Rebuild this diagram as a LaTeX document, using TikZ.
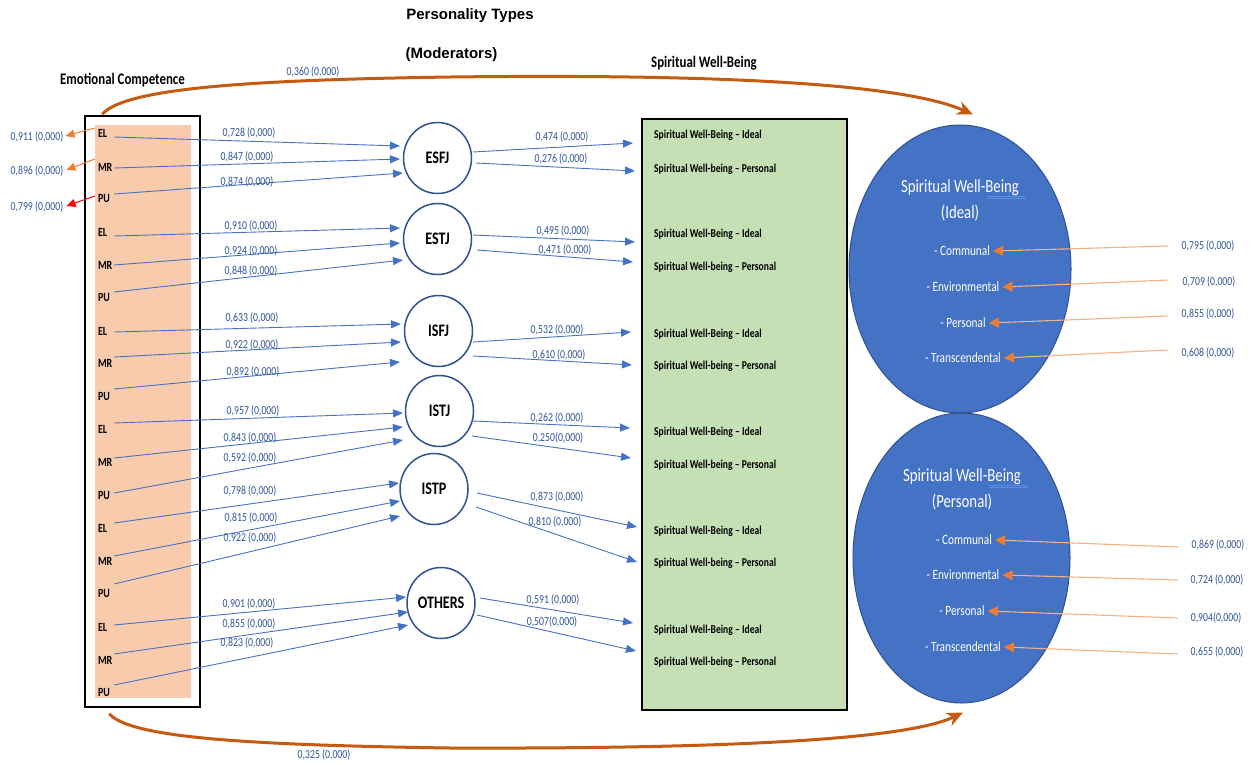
\documentclass[tikz,border=0pt]{standalone}
\usepackage{fontspec}
\usetikzlibrary{arrows.meta,shapes.geometric,calc}
\newfontfamily\calfont[FakeStretch=0.8]{Carlito}
\newfontfamily\arialfont{Liberation Sans}
\definecolor{peach}{HTML}{F8CBAD}
\definecolor{swbgreen}{HTML}{C5E0B4}
\definecolor{ellblue}{HTML}{4472C4}
\definecolor{ellborder}{HTML}{2F528F}
\definecolor{arrowblue}{HTML}{4472C4}
\definecolor{labelblue}{HTML}{2F5496}
\definecolor{orangeA}{HTML}{ED7D31}
\definecolor{orangeL}{HTML}{F4B183}
\definecolor{orangeD}{HTML}{C55A11}
\definecolor{spellblue}{HTML}{5B8FE0}
\begin{document}
\begin{tikzpicture}[x=1pt,y=-1pt,
  lbl/.style={font=\calfont\fontsize{12.2}{14}\selectfont, text=labelblue, inner sep=1pt},
  ind/.style={font=\calfont\bfseries\fontsize{12.5}{14}\selectfont, text width=14pt, inner sep=2pt, align=left},
  ptype/.style={ellipse, draw=ellborder, line width=1.5pt, fill=white, minimum width=68pt, minimum height=71pt, inner sep=0pt, font=\calfont\bfseries\fontsize{17.6}{19}\selectfont},
  swbtext/.style={anchor=west, inner sep=0pt, font=\calfont\bfseries\fontsize{12}{14}\selectfont},
  elltitle/.style={text=white, inner sep=1pt, font=\calfont\fontsize{18.5}{20}\selectfont},
  ellitem/.style={text=white, inner sep=3pt, font=\calfont\fontsize{14.1}{16}\selectfont},
  headA/.style={font=\arialfont\bfseries\fontsize{15}{17}\selectfont},
  headC/.style={font=\calfont\bfseries\fontsize{16.1}{18}\selectfont},
  barrow/.style={draw=arrowblue, line width=0.9pt, -{Triangle[length=10pt,width=8pt]}},
  orarrow/.style={draw=orangeA, line width=1pt, -{Triangle[length=9pt,width=8pt]}},
  redarrow/.style={draw=red, line width=1pt, -{Triangle[length=9pt,width=8pt]}},
  lorarrow/.style={draw=orangeL, line width=1.1pt, -{Triangle[length=10pt,width=10pt,color=orangeA]}},
  bigarc/.style={draw=orangeD, line width=3pt, -{Stealth[length=16pt,width=14pt]}},
  spell/.style={draw=spellblue, line width=0.5pt}
]
\useasboundingbox (0,0) rectangle (1253,764);

% headings
\node[headA] (pt) at (470,16) {Personality Types};
\node[headA] (mod) at (451.5,55) {(Moderators)};
\node[headC] (ect) at (122.5,80) {Emotional Competence};
\node[headC] (swt) at (704,63) {Spiritual Well-Being};

% emotional competence block
\node[draw=black, line width=1.5pt, fill=white, minimum width=115pt, minimum height=591pt, inner sep=0pt] (ecbox) at (142.5,411.5) {};
\node[fill=peach, minimum width=96pt, minimum height=573pt, inner sep=0pt] (ecfill) at (143,411.5) {};

% spiritual well-being block
\node[draw=black, line width=1.5pt, fill=swbgreen, minimum width=205pt, minimum height=591pt, inner sep=0pt] (swbbox) at (744.5,414.5) {};

% outcome ellipses
\node[ellipse, fill=ellblue, draw=ellborder, line width=1pt, minimum width=222pt, minimum height=288pt] (idealell) at (960,269) {};
\node[ellipse, fill=ellblue, draw=ellborder, line width=1pt, minimum width=217pt, minimum height=290pt] (persell) at (961.5,558) {};

% indicator labels
\foreach \g/\ya/\yb/\yc in {1/133/167/198, 2/232/265/297, 3/331/363/396, 4/429/462/495, 5/528/561/593, 6/627/660/692}{
  \node[ind] (el\g) at (105,\ya) {EL};
  \node[ind] (mr\g) at (105,\yb) {MR};
  \node[ind] (pu\g) at (105,\yc) {PU};
}

% personality type circles
\node[ptype] (esfj) at (437.5,158) {ESFJ};
\node[ptype] (estj) at (437.5,239) {ESTJ};
\node[ptype] (isfj) at (438.5,331) {ISFJ};
\node[ptype] (istj) at (439.5,411) {ISTJ};
\node[ptype] (istp) at (434,489) {ISTP};
\node[ptype] (others) at (441,603) {OTHERS};

% spiritual well-being rows
\foreach \g/\ya/\yb in {1/135/169, 2/234/267, 3/334/366, 4/432/465, 5/531/563, 6/630/662}{
  \node[swbtext] (gi\g) at (654,\ya) {Spiritual Well-Being – Ideal};
  \node[swbtext] (gp\g) at (654,\yb) {Spiritual Well-being – Personal};
}

% loadings of the indicators
\node[lbl] (o1) at (37,137) {0,911 (0,000)};
\node[lbl] (o2) at (37,171) {0,896 (0,000)};
\node[lbl] (o3) at (37,207) {0,799 (0,000)};
\draw[orarrow] ($(el1.west)+(-1,-5)$) -- ($(o1.east)+(1,-1)$);
\draw[orarrow] ($(mr1.west)+(-1,-8)$) -- ($(o2.east)+(2,-1)$);
\draw[redarrow] ($(pu1.west)+(-1,-2)$) -- ($(o3.east)+(2,-1)$);

% paths from indicators to personality types
\draw[barrow] ($(el1.east)+(0,4)$) -- ($(esfj)+(-37.5,-12)$);
\draw[barrow] ($(mr1.east)+(0,1)$) -- ($(esfj)+(-37.5,1)$);
\draw[barrow] ($(pu1.east)+(0,-4)$) -- ($(esfj)+(-34.5,15)$);
\draw[barrow] ($(el2.east)+(0,4)$) -- ($(estj)+(-37.5,-11)$);
\draw[barrow] ($(mr2.east)+(0,0)$) -- ($(estj)+(-37.5,4)$);
\draw[barrow] ($(pu2.east)+(0,-5)$) -- ($(estj)+(-34.5,21)$);
\draw[barrow] ($(el3.east)+(0,1)$) -- ($(isfj)+(-37.5,-7)$);
\draw[barrow] ($(mr3.east)+(0,-6)$) -- ($(isfj)+(-37.5,11)$);
\draw[barrow] ($(pu3.east)+(0,-7)$) -- ($(isfj)+(-38.5,31)$);
\draw[barrow] ($(el4.east)+(0,-6)$) -- ($(istj)+(-36.5,2)$);
\draw[barrow] ($(mr4.east)+(0,-4)$) -- ($(istj)+(-36.5,16)$);
\draw[barrow] ($(pu4.east)+(0,-2)$) -- ($(istj)+(-36.5,29)$);
\draw[barrow] ($(el5.east)+(0,-5)$) -- ($(istp)+(-35,-6)$);
\draw[barrow] ($(mr5.east)+(0,-5)$) -- ($(istp)+(-34,12)$);
\draw[barrow] ($(pu5.east)+(0,-9)$) -- ($(istp)+(-34,27)$);
\draw[barrow] ($(el6.east)+(0,-2)$) -- ($(others)+(-35,-6)$);
\draw[barrow] ($(mr6.east)+(0,-6)$) -- ($(others)+(-33,9)$);
\draw[barrow] ($(pu6.east)+(0,-7)$) -- ($(others)+(-33,22)$);

\node[lbl] at (249,133) {0,728 (0,000)};
\node[lbl] at (247,157) {0,847 (0,000)};
\node[lbl] at (247,182) {0,874 (0,000)};
\node[lbl] at (251,226) {0,910 (0,000)};
\node[lbl] at (251,251) {0,924 (0,000)};
\node[lbl] at (251,271) {0,848 (0,000)};
\node[lbl] at (252,318) {0,633 (0,000)};
\node[lbl] at (252,345) {0,922 (0,000)};
\node[lbl] at (253,372) {0,892 (0,000)};
\node[lbl] at (253,411) {0,957 (0,000)};
\node[lbl] at (250,438) {0,843 (0,000)};
\node[lbl] at (250,458) {0,592 (0,000)};
\node[lbl] at (250,491) {0,798 (0,000)};
\node[lbl] at (251,518) {0,815 (0,000)};
\node[lbl] at (250,538) {0,922 (0,000)};
\node[lbl] at (249,604) {0,901 (0,000)};
\node[lbl] at (249,624) {0,855 (0,000)};
\node[lbl] at (247,643) {0,823 (0,000)};

% paths from personality types to spiritual well-being
\draw[barrow] ($(esfj)+(35.5,-6)$) -- ($(gi1.west)+(-21,8)$);
\draw[barrow] ($(esfj)+(38.5,5)$) -- ($(gp1.west)+(-19,2)$);
\draw[barrow] ($(estj)+(35.5,-4)$) -- ($(gi2.west)+(-19,8)$);
\draw[barrow] ($(estj)+(39.5,11)$) -- ($(gp2.west)+(-21,-5)$);
\draw[barrow] ($(isfj)+(34.5,11)$) -- ($(gi3.west)+(-23,-2)$);
\draw[barrow] ($(isfj)+(34.5,25)$) -- ($(gp3.west)+(-22,-1)$);
\draw[barrow] ($(istj)+(33.5,10)$) -- ($(gi4.west)+(-24,-4)$);
\draw[barrow] ($(istj)+(32.5,25)$) -- ($(gp4.west)+(-23,-7)$);
\draw[barrow] ($(istp)+(43,4)$) -- ($(gi5.west)+(-17,-4)$);
\draw[barrow] ($(istp)+(42,18)$) -- ($(gp5.west)+(-17,-1)$);
\draw[barrow] ($(others)+(39,-5)$) -- ($(gi6.west)+(-21,-7)$);
\draw[barrow] ($(others)+(36,12)$) -- ($(gp6.west)+(-18,-11)$);

\node[lbl] at (562,137) {0,474 (0,000)};
\node[lbl] at (561,159) {0,276 (0,000)};
\node[lbl] at (563,231) {0,495 (0,000)};
\node[lbl] at (565,250) {0,471 (0,000)};
\node[lbl] at (557,330) {0,532 (0,000)};
\node[lbl] at (559,355) {0,610 (0,000)};
\node[lbl] at (557,418) {0,262 (0,000)};
\node[lbl] at (558,438) {0,250(0,000)};
\node[lbl] at (557,497) {0,873 (0,000)};
\node[lbl] at (555,522) {0,810 (0,000)};
\node[lbl] at (553,600) {0,591 (0,000)};
\node[lbl] at (552,622) {0,507(0,000)};

% ellipse contents: ideal
\node[elltitle] (idt) at (960,188) {Spiritual Well-Being};
\node[elltitle] (idp) at (960,213) {(Ideal)};
\draw[spell] ($(idt.east)+(-33,8.5)$) -- ($(idt.east)+(6,8.5)$);
\draw[spell] ($(idt.east)+(-33,10)$) -- ($(idt.east)+(6,10)$);
\node[ellitem] (ic) at (962,251) {- Communal};
\node[ellitem] (ie) at (963,287) {- Environmental};
\node[ellitem] (ip) at (963,323) {- Personal};
\node[ellitem] (it) at (963,358) {- Transcendental};

% ellipse contents: personal
\node[elltitle] (pdt) at (962,477) {Spiritual Well-Being};
\node[elltitle] (pdp) at (962,502) {(Personal)};
\draw[spell] ($(pdt.east)+(-33,8.5)$) -- ($(pdt.east)+(6,8.5)$);
\draw[spell] ($(pdt.east)+(-33,10)$) -- ($(pdt.east)+(6,10)$);
\node[ellitem] (pc) at (964,540) {- Communal};
\node[ellitem] (pe) at (963,575) {- Environmental};
\node[ellitem] (pp) at (962,611) {- Personal};
\node[ellitem] (pt2) at (963,647) {- Transcendental};

% dimension loadings
\node[lbl] (lic) at (1208,246) {0,795 (0,000)};
\node[lbl] (lie) at (1209,282) {0,709 (0,000)};
\node[lbl] (lip) at (1208,314) {0,855 (0,000)};
\node[lbl] (lit) at (1208,353) {0,608 (0,000)};
\node[lbl] (lpc) at (1218,545) {0,869 (0,000)};
\node[lbl] (lpe) at (1217,580) {0,724 (0,000)};
\node[lbl] (lpp) at (1216,618) {0,904(0,000)};
\node[lbl] (lpt) at (1217,652) {0,655 (0,000)};
\draw[lorarrow] ($(lic.west)+(-13,0)$) -- (ic.east);
\draw[lorarrow] ($(lie.west)+(-13,-2)$) -- (ie.east);
\draw[lorarrow] ($(lip.west)+(-13,2)$) -- (ip.east);
\draw[lorarrow] ($(lit.west)+(-13,-3)$) -- (it.east);
\draw[lorarrow] ($(lpc.west)+(-12,2)$) -- (pc.east);
\draw[lorarrow] ($(lpe.west)+(-12,0)$) -- (pe.east);
\draw[lorarrow] ($(lpp.west)+(-12,0)$) -- (pp.east);
\draw[lorarrow] ($(lpt.west)+(-12,2)$) -- (pt2.east);

% direct effects of emotional competence
\draw[bigarc] ($(ecbox.north west)+(18,-1)$) .. controls (125,88) and (250,80) .. (450,77)
  .. controls (700,74) and (900,82) .. ($(idealell.north)+(13,-10)$);
\draw[bigarc] ($(ecbox.south west)+(25,6)$) .. controls (130,738) and (250,745) .. (450,748)
  .. controls (750,749) and (910,738) .. ($(persell.south)+(1.5,9)$);
\node[lbl] at (313,72) {0,360 (0,000)};
\node[lbl] at (324,755) {0,325 (0,000)};
\end{tikzpicture}
\end{document}
